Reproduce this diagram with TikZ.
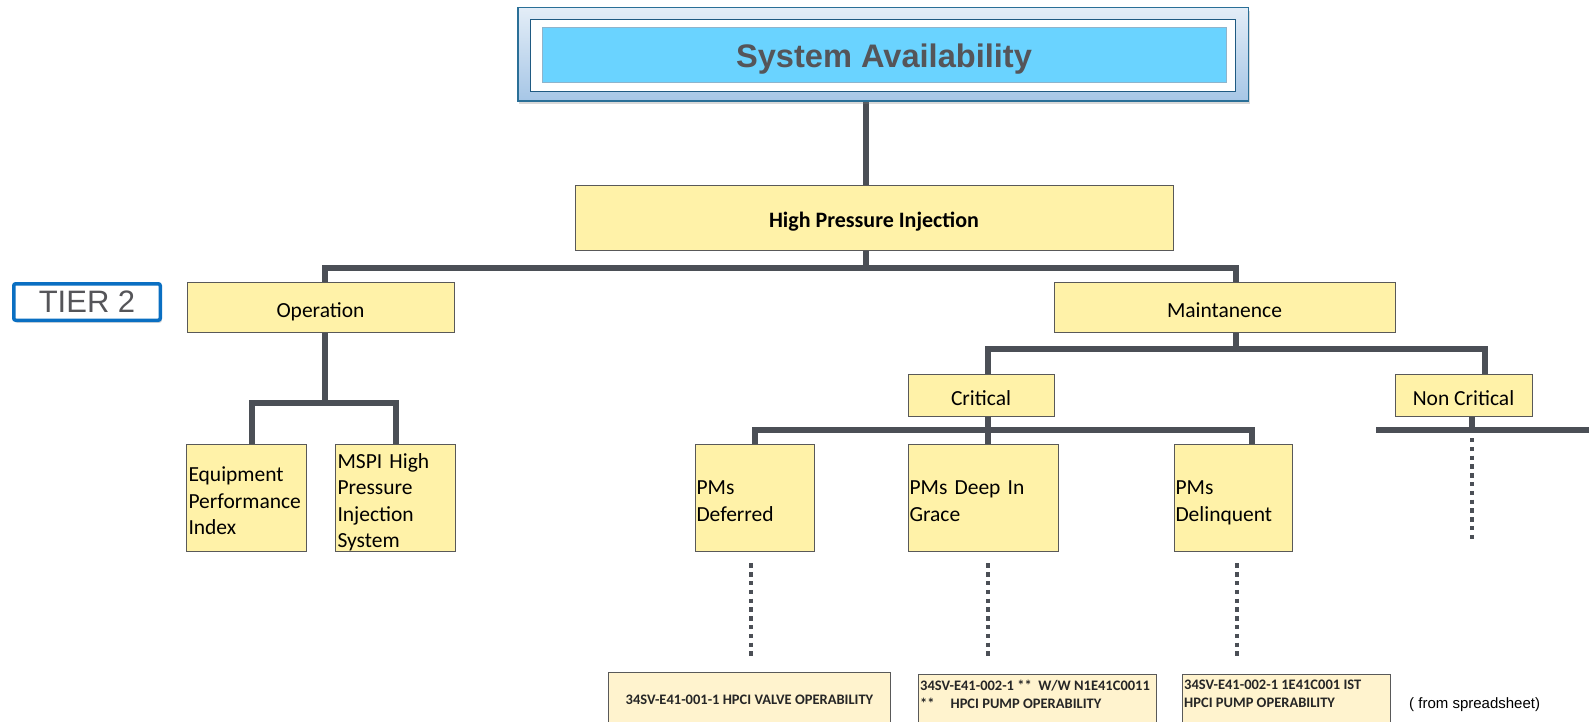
\documentclass[tikz,border=0pt]{standalone}
\usepackage{fontspec}
\setmainfont{Carlito}
\newfontfamily\arialfont{Liberation Sans}
\usetikzlibrary{backgrounds,shadows,calc}
\hyphenpenalty=10000
\exhyphenpenalty=10000

% struts that give every multi-line label the same first-line height and last-line depth
\newcommand\firstln{\rule{0pt}{21pt}}
\newcommand\lastln[1]{\smash{#1}}

\definecolor{boxfill}{RGB}{255,242,168}
\definecolor{leaffill}{RGB}{255,243,206}
\definecolor{boxline}{RGB}{89,89,89}
\definecolor{wirecol}{RGB}{75,79,86}
\definecolor{skyfill}{RGB}{106,211,255}
\definecolor{skyline}{RGB}{142,180,204}
\definecolor{frametop}{RGB}{227,237,247}
\definecolor{framebot}{RGB}{166,198,230}
\definecolor{frameline}{RGB}{42,111,151}
\definecolor{innerline}{RGB}{31,90,130}
\definecolor{tierblue}{RGB}{10,111,194}
\definecolor{titlegray}{RGB}{85,85,89}

\begin{document}
\begin{tikzpicture}[x=1pt,y=-1pt,
  box/.style={draw=boxline, line width=0.9pt, fill=boxfill, inner sep=0pt,
    text=black, font=\fontsize{21.5}{26.5}\selectfont},
  onebox/.style={box, text height=24pt, text depth=4pt},
  tallbox/.style={box, minimum height=107pt, align=left},
  leaf/.style={draw=boxline, line width=0.9pt, fill=leaffill, inner sep=0pt},
  leaftext/.style={inner sep=0pt, align=left, text=black!85,
    font=\bfseries\fontsize{14.5}{18}\selectfont},
  wire/.style={draw=wirecol, line width=5.5pt,
    preaction={draw=black!14, transform canvas={xshift=1.5pt,yshift=-2.5pt}}},
  dotline/.style={draw=wirecol, line width=4pt, dash pattern=on 4.4pt off 4.4pt}]

\useasboundingbox (0,0) rectangle (1589,722);

% title block
\node[draw=frameline, line width=1.5pt, top color=frametop, bottom color=framebot,
  minimum width=730.5pt, minimum height=93.5pt,
  drop shadow={shadow xshift=1.5pt, shadow yshift=-3pt, opacity=0.3}] (sa) at (883,54.5) {};
\node[draw=innerline, line width=1.5pt, fill=white,
  minimum width=705pt, minimum height=72pt] (saframe) at (883,55.5) {};
\node[draw=skyline, line width=0.8pt, fill=skyfill, minimum width=684pt, minimum height=55pt,
  inner sep=0pt, text height=33pt, text depth=6pt,
  text=titlegray, font=\arialfont\bfseries\fontsize{32.6}{38}\selectfont] (satitle) at (884,54.5) {System Availability};

% tier marker
\node[draw=tierblue, line width=3.5pt, rounded corners=2pt, fill=white,
  minimum width=146.5pt, minimum height=36.5pt,
  drop shadow={shadow xshift=1.5pt, shadow yshift=-2.5pt, opacity=0.3},
  text=titlegray, font=\arialfont\fontsize{31}{31}\selectfont] (tier) at (87,302) {TIER 2};

% tree boxes
\node[onebox, minimum width=598pt, minimum height=65pt, font=\bfseries\fontsize{22}{26}\selectfont] (hpi) at (874,217.5) {High Pressure Injection};
\node[onebox, minimum width=267pt, minimum height=50pt] (op) at (320.5,307) {Operation};
\node[onebox, minimum width=341pt, minimum height=50pt] (mt) at (1224.5,307) {Maintanence};
\node[tallbox, minimum width=120pt, text width=115pt] (eq) at (246,497.5) {\firstln Equipment\\Performance\\\lastln{Index}};
\node[tallbox, minimum width=120pt, text width=115pt] (ms) at (395,497.5) {\firstln MSPI High\\Pressure\\Injection\\\lastln{System}};
\node[onebox, minimum width=146pt, minimum height=42pt] (cr) at (981,395) {Critical};
\node[onebox, minimum width=137pt, minimum height=42pt] (nc) at (1463.5,395) {Non Critical};
\node[tallbox, minimum width=119pt, text width=116pt] (pd) at (754.5,497.5) {\firstln PMs\\\lastln{Deferred}};
\node[tallbox, minimum width=150pt, text width=147pt] (pg) at (983,497.5) {\firstln PMs Deep In\\\lastln{Grace}};
\node[tallbox, minimum width=118pt, text width=115pt] (pq) at (1233,497.5) {\firstln PMs\\\lastln{Delinquent}};

% spreadsheet rows
\node[leaf, anchor=north west, minimum width=282pt, minimum height=54pt,
  text=black!85, font=\bfseries\fontsize{14.5}{18}\selectfont] (b1) at (608,672) {34SV-E41-001-1 HPCI VALVE OPERABILITY};
\node[leaf, anchor=north west, minimum width=238pt, minimum height=60pt] (b2) at (918,674) {};
\node[leaftext, anchor=north west] (b2t) at ($(b2.north west)+(2,5.5)$)
  {34SV-E41-002-1 **\ \ W/W N1E41C0011\\**\hspace{1.1em}HPCI PUMP OPERABILITY};
\node[leaf, anchor=north west, minimum width=208pt, minimum height=60pt] (b3) at (1182,674) {};
\node[leaftext, anchor=north west] (b3t) at ($(b3.north west)+(2,5.5)$)
  {34SV-E41-002-1 1E41C001 IST\\HPCI PUMP OPERABILITY};
\node[anchor=west, inner sep=0pt, font=\arialfont\fontsize{15}{18}\selectfont] (src) at (1409,705) {( from spreadsheet)};

% bus positions
\coordinate (x0) at (866,0);
\coordinate (bus1) at (866,268);
\coordinate (xop) at (325,0);
\coordinate (xmt) at (1236,0);
\coordinate (bus2) at (325,403);
\coordinate (xeq) at (252,0);
\coordinate (xms) at (396,0);
\coordinate (bus3) at (1236,349);
\coordinate (xcr) at (988,0);
\coordinate (xnc) at (1485,0);
\coordinate (bus4) at (988,430);
\coordinate (xpd) at (755,0);
\coordinate (xpq) at (1252,0);
\coordinate (xns) at (1472,0);
\coordinate (ncbus) at (1472,430);
\coordinate (ncl) at (1376,430);
\coordinate (ncr) at (1596,430);
\coordinate (ncend) at (1472,539.5);
\coordinate (dpd) at (751,0);
\coordinate (dpq) at (1237,0);

\begin{scope}[on background layer]
  \draw[wire] (sa.south -| x0) -- (hpi.north -| x0);
  \draw[wire] (hpi.south -| x0) -- (bus1);
  \draw[wire] (op.north -| xop) |- (bus1) -| (mt.north -| xmt);
  \draw[wire] (op.south -| xop) -- (bus2);
  \draw[wire] (eq.north -| xeq) |- (bus2) -| (ms.north -| xms);
  \draw[wire] (mt.south -| xmt) -- (bus3);
  \draw[wire] (cr.north -| xcr) |- (bus3) -| (nc.north -| xnc);
  \draw[wire] (cr.south -| xcr) -- (bus4);
  \draw[wire] (pd.north -| xpd) |- (bus4) -| (pq.north -| xpq);
  \draw[wire] (bus4) -- (pg.north -| xcr);
  \draw[wire] (nc.south -| xns) -- (ncbus);
  \draw[wire] (ncl) -- (ncr);
\end{scope}

% dotted continuations
\draw[dotline] ($(pd.south -| dpd)+(0,12)$) -- ($(b1.north -| dpd)+(0,-13)$);
\draw[dotline] ($(pg.south -| xcr)+(0,12)$) -- ($(b2.north -| xcr)+(0,-15)$);
\draw[dotline] ($(pq.south -| dpq)+(0,12)$) -- ($(b3.north -| dpq)+(0,-15)$);
\draw[dotline] ($(ncbus)+(0,8)$) -- (ncend);

\end{tikzpicture}
\end{document}
